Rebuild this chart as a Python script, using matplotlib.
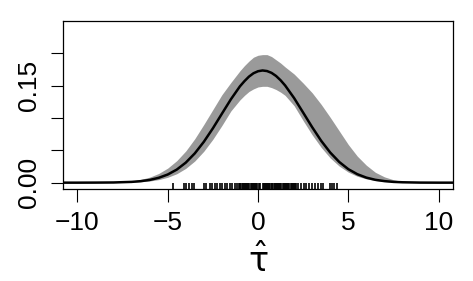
import matplotlib
matplotlib.use("Agg")
import matplotlib.pyplot as plt
import matplotlib.transforms as mtransforms

plt.rcParams['font.family'] = ['Liberation Sans', 'DejaVu Sans']

# density estimate (black line)
x_grid = [-11, -10, -9, -8, -7, -6.5, -6, -5.5, -5, -4.5, -4, -3.5, -3, -2.5, -2, -1.5,
          -1, -0.75, -0.5, -0.25, 0, 0.25, 0.5, 0.75, 1, 1.25, 1.5, 2, 2.5, 3, 3.5, 4,
          4.5, 5, 5.5, 6, 6.5, 7, 7.5, 8, 9, 10, 11]
density = [0.0, 0.0, 0.0001, 0.0003, 0.0012, 0.0023, 0.0042, 0.0075, 0.0126, 0.0202,
           0.0310, 0.0453, 0.0632, 0.0840, 0.1066, 0.1290,
           0.1490, 0.1570, 0.1640, 0.1692, 0.1723, 0.1735, 0.1726, 0.1698, 0.1650,
           0.1584, 0.1504, 0.1308, 0.1084, 0.0858, 0.0647, 0.0466,
           0.0320, 0.0209, 0.0131, 0.0078, 0.0044, 0.0024, 0.0012, 0.0006, 0.0001,
           0.0, 0.0]
# band upper / lower
band_upper = [0.0, 0.0, 0.0001, 0.0006, 0.0026, 0.0050, 0.0085, 0.0142, 0.0225, 0.034,
              0.049, 0.068, 0.090, 0.113, 0.136, 0.155,
              0.173, 0.181, 0.188, 0.194, 0.197, 0.198, 0.198, 0.195, 0.190,
              0.185, 0.179, 0.168, 0.154, 0.139, 0.121, 0.101,
              0.080, 0.059, 0.041, 0.027, 0.016, 0.009, 0.0045, 0.002, 0.0003, 0.0, 0.0]
band_lower = [0.0, 0.0, 0.0, 0.0001, 0.0007, 0.0014, 0.0026, 0.0047, 0.0083, 0.0138,
              0.0221, 0.0335, 0.0486, 0.0671, 0.0884, 0.111,
              0.128, 0.135, 0.141, 0.145, 0.148, 0.149, 0.149, 0.147, 0.144,
              0.140, 0.135, 0.119, 0.096, 0.074, 0.0545, 0.0382,
              0.0256, 0.0163, 0.0099, 0.0058, 0.0032, 0.0017, 0.0009, 0.0004, 0.0001,
              0.0, 0.0]

# observed estimates (rug)
rug = [-4.72, -4.10, -3.97, -3.84, -3.63, -3.54,
       -2.99, -2.86, -2.68, -2.55, -2.40, -2.25, -2.12, -1.98, -1.85, -1.70, -1.57,
       -1.42, -1.30, -1.17,
       -1.08, -1.02, -0.97, -0.90, -0.85, -0.78, -0.72, -0.66, -0.60, -0.55, -0.48,
       -0.41, -0.35, -0.28, -0.22, -0.15, -0.09, -0.03, 0.04, 0.09,
       0.27, 0.33, 0.39, 0.44, 0.51, 0.57, 0.62, 0.69, 0.75, 0.80, 0.87, 0.93, 0.99,
       1.05, 1.11, 1.18, 1.24, 1.30, 1.36, 1.43, 1.49, 1.55, 1.62, 1.68, 1.74, 1.81,
       1.87, 1.93, 2.00, 2.06, 2.12,
       2.21, 2.40, 2.55, 2.68, 2.82, 2.99, 3.17, 3.32, 3.50, 3.59,
       3.96, 4.10, 4.23, 4.36]

x_ticks = [-10, -5, 0, 5, 10]
x_ticklabels = ['\u221210', '\u22125', '0', '5', '10']
y_ticks = [0.0, 0.05, 0.10, 0.15, 0.20]
y_ticklabels = ['0.00', '', '', '0.15', '']

fig = plt.figure(figsize=(4.73, 2.81), dpi=100)
ax = fig.add_axes([63/473, 1-189/281, (453-63)/473, (189-21)/281])

ax.fill_between(x_grid, band_lower, band_upper, color='#9a9a9a', linewidth=0)
ax.plot(x_grid, density, color='black', lw=1.8)

trans = mtransforms.blended_transform_factory(ax.transData, ax.transAxes)
ax.vlines(rug, 0, 0.035, transform=trans, color='black', lw=1.2)

ax.set_xlim(-10.8, 10.8)
ax.set_ylim(-0.0098, 0.25)
ax.set_xticks(x_ticks)
ax.set_xticklabels(x_ticklabels)
ax.set_yticks(y_ticks)
ax.set_yticklabels(y_ticklabels, rotation=90, va='center')
ax.tick_params(axis='both', labelsize=19, length=9, width=0.8)
ax.tick_params(axis='x', pad=7)
ax.tick_params(axis='y', pad=7)
for s in ax.spines.values():
    s.set_linewidth(0.9)

ax.set_xlabel(r'$\hat{\mathrm{\tau}}$', fontsize=24, labelpad=6)

fig.savefig('out.png', dpi=100)
